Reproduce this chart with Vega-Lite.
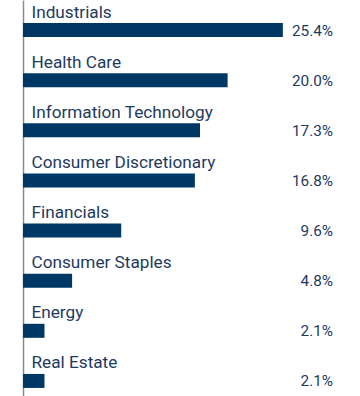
{
  "$schema": "https://vega.github.io/schema/vega-lite/v6.json",
  "width": 310,
  "height": 401,
  "autosize": {"type": "none"},
  "padding": {"left": 23, "top": 0, "right": 27, "bottom": 0},
  "background": "white",
  "config": {"view": {"stroke": null}, "font": "Roboto"},
  "data": {
    "values": [
      {"sector": "Industrials", "value": 25.4, "label": "25.4%"},
      {"sector": "Health Care", "value": 20.0, "label": "20.0%"},
      {"sector": "Information Technology", "value": 17.3, "label": "17.3%"},
      {"sector": "Consumer Discretionary", "value": 16.8, "label": "16.8%"},
      {"sector": "Financials", "value": 9.6, "label": "9.6%"},
      {"sector": "Consumer Staples", "value": 4.8, "label": "4.8%"},
      {"sector": "Energy", "value": 2.1, "label": "2.1%"},
      {"sector": "Real Estate", "value": 2.1, "label": "2.1%"}
    ]
  },
  "encoding": {
    "y": {
      "field": "sector",
      "type": "nominal",
      "sort": null,
      "scale": {"paddingInner": 0, "paddingOuter": 0},
      "axis": {"labels": false, "ticks": false, "title": null, "domain": true, "domainColor": "#7f8fa3", "domainWidth": 1.5, "grid": false}
    }
  },
  "layer": [
    {
      "mark": {"type": "bar", "height": 14, "yOffset": 5, "color": "#003865"},
      "encoding": {
        "x": {"field": "value", "type": "quantitative", "scale": {"domain": [0, 30.3], "nice": false}, "axis": null}
      }
    },
    {
      "mark": {"type": "text", "align": "left", "baseline": "alphabetic", "dx": 8.5, "dy": -7.5, "fontSize": 17.2, "color": "#1f3a5f"},
      "encoding": {
        "x": {"datum": 0, "type": "quantitative"},
        "text": {"field": "sector"}
      }
    },
    {
      "mark": {"type": "text", "align": "right", "baseline": "middle", "dy": 5.5, "fontSize": 15.3, "color": "#1f3a5f"},
      "encoding": {
        "x": {"datum": 30.3, "type": "quantitative"},
        "text": {"field": "label"}
      }
    }
  ]
}
